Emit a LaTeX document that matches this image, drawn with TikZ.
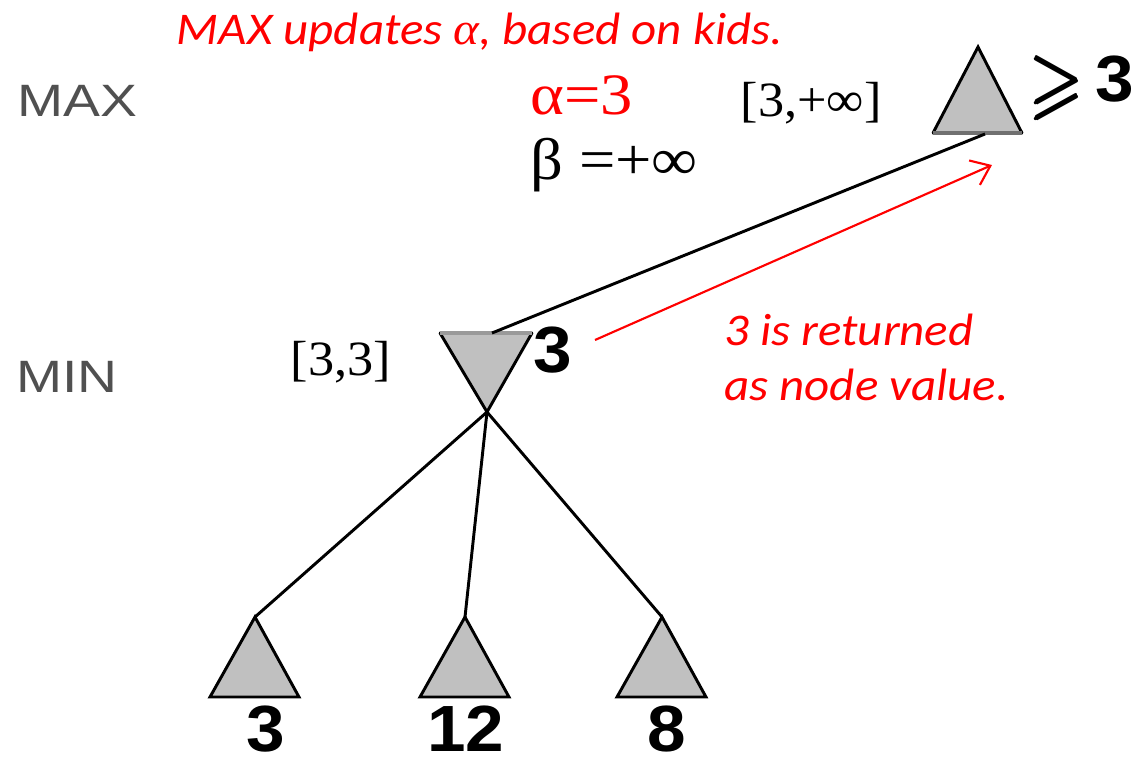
\documentclass[tikz,border=0pt]{standalone}
\usepackage{amsmath}
\usepackage{amssymb}
\usepackage{fontspec}
\setmainfont{Liberation Serif}
\newfontfamily\arialf{Liberation Sans}
\newfontfamily\calif{Carlito}
\usetikzlibrary{arrows.meta}
\definecolor{trigray}{HTML}{C0C0C0}
\definecolor{basegray}{HTML}{707070}
\definecolor{lvlgray}{HTML}{505050}
\begin{document}
\begin{tikzpicture}[x=0.75pt,y=-0.75pt,
  tri/.style={fill=trigray},
  side/.style={draw=black,line width=2.2pt,line join=miter,line cap=round},
  conn/.style={draw=black,line width=2.2pt},
  redtxt/.style={inner sep=0pt,text=red,font=\calif\itshape\fontsize{34}{41}\selectfont,xscale=1.08},
  lvl/.style={inner sep=0pt,text=lvlgray,font=\arialf\fontsize{34}{40}\selectfont,xscale=1.22},
  val/.style={inner sep=0pt,font=\arialf\bfseries\fontsize{49}{56}\selectfont,xscale=1.06},
  tms/.style={inner sep=0pt,font=\fontsize{37}{44}\selectfont,xscale=1.06},
  big/.style={inner sep=0pt,font=\fontsize{44}{50}\selectfont,xscale=1.1}]
\useasboundingbox (0,0) rectangle (1135,761);

% MAX node
\coordinate (maxT) at (978,47);
\coordinate (maxR) at (1022,133);
\coordinate (maxL) at (933,133);
\coordinate (maxIn) at (985,134);
\fill[tri] (maxT) -- (maxR) -- (maxL) -- cycle;
\draw[side] (maxL) -- (maxT) -- (maxR);
\draw[draw=basegray,line width=3pt] (maxL) -- (maxR);

% MIN node
\coordinate (minL) at (440,333);
\coordinate (minR) at (532,333);
\coordinate (minB) at (487,412);
\coordinate (minIn) at (492,333);
\fill[tri] (minL) -- (minR) -- (minB) -- cycle;
\draw[side] (minL) -- (minB) -- (minR);
\draw[draw=trigray!80!black,line width=3pt] (minL) -- (minR);

% leaves
\foreach \n/\x in {la/255,lb/465,lc/662}{
  \coordinate (\n T) at (\x,617);
  \coordinate (\n L) at ({\x-45},697);
  \coordinate (\n R) at ({\x+44},697);
  \fill[tri] (\n T) -- (\n R) -- (\n L) -- cycle;
  \draw[side] (\n T) -- (\n R) -- (\n L) -- cycle;
}

% connectors
\draw[conn] (minIn) -- (maxIn);
\draw[conn] (minB) -- (laT);
\draw[conn] (minB) -- (lbT);
\draw[conn] (minB) -- (lcT);

% red arrow
\coordinate (arS) at (595,340);
\coordinate (arE) at (992,165);
\draw[red,line width=1.6pt,-{Straight Barb[length=13pt,width=20pt,line width=1.6pt]}] (arS) -- (arE);

% texts
\node[redtxt] (title) at (480,32) {MAX updates {\rmfamily\itshape α}, based on kids.};
\node[lvl] (lmax) at (77,101) {MAX};
\node[lvl] (lmin) at (67,377) {MIN};
\node[big,text=red] (alpha) at (582,95) {α=3};
\node[big] (beta) at (614,165) {β =+∞};
\node[tms] (maxiv) at (811,103) {[3,+∞]};
\node[tms] (miniv) at (341,362) {[3,3]};
\node[val,anchor=base west] (maxv) at (1030,101) {\raisebox{-6pt}{\scalebox{1}[1.25]{$\pmb{\geqslant}$}}\,3};
\node[val] (minv) at (553,350) {3};
\node[val] (va) at (266,729) {3};
\node[val] (vb) at (466,729) {12};
\node[val] (vc) at (667,729) {8};
\node[redtxt,align=left,anchor=north west] (note) at (724,314) {3 is returned\\as node value.};
\end{tikzpicture}
\end{document}
